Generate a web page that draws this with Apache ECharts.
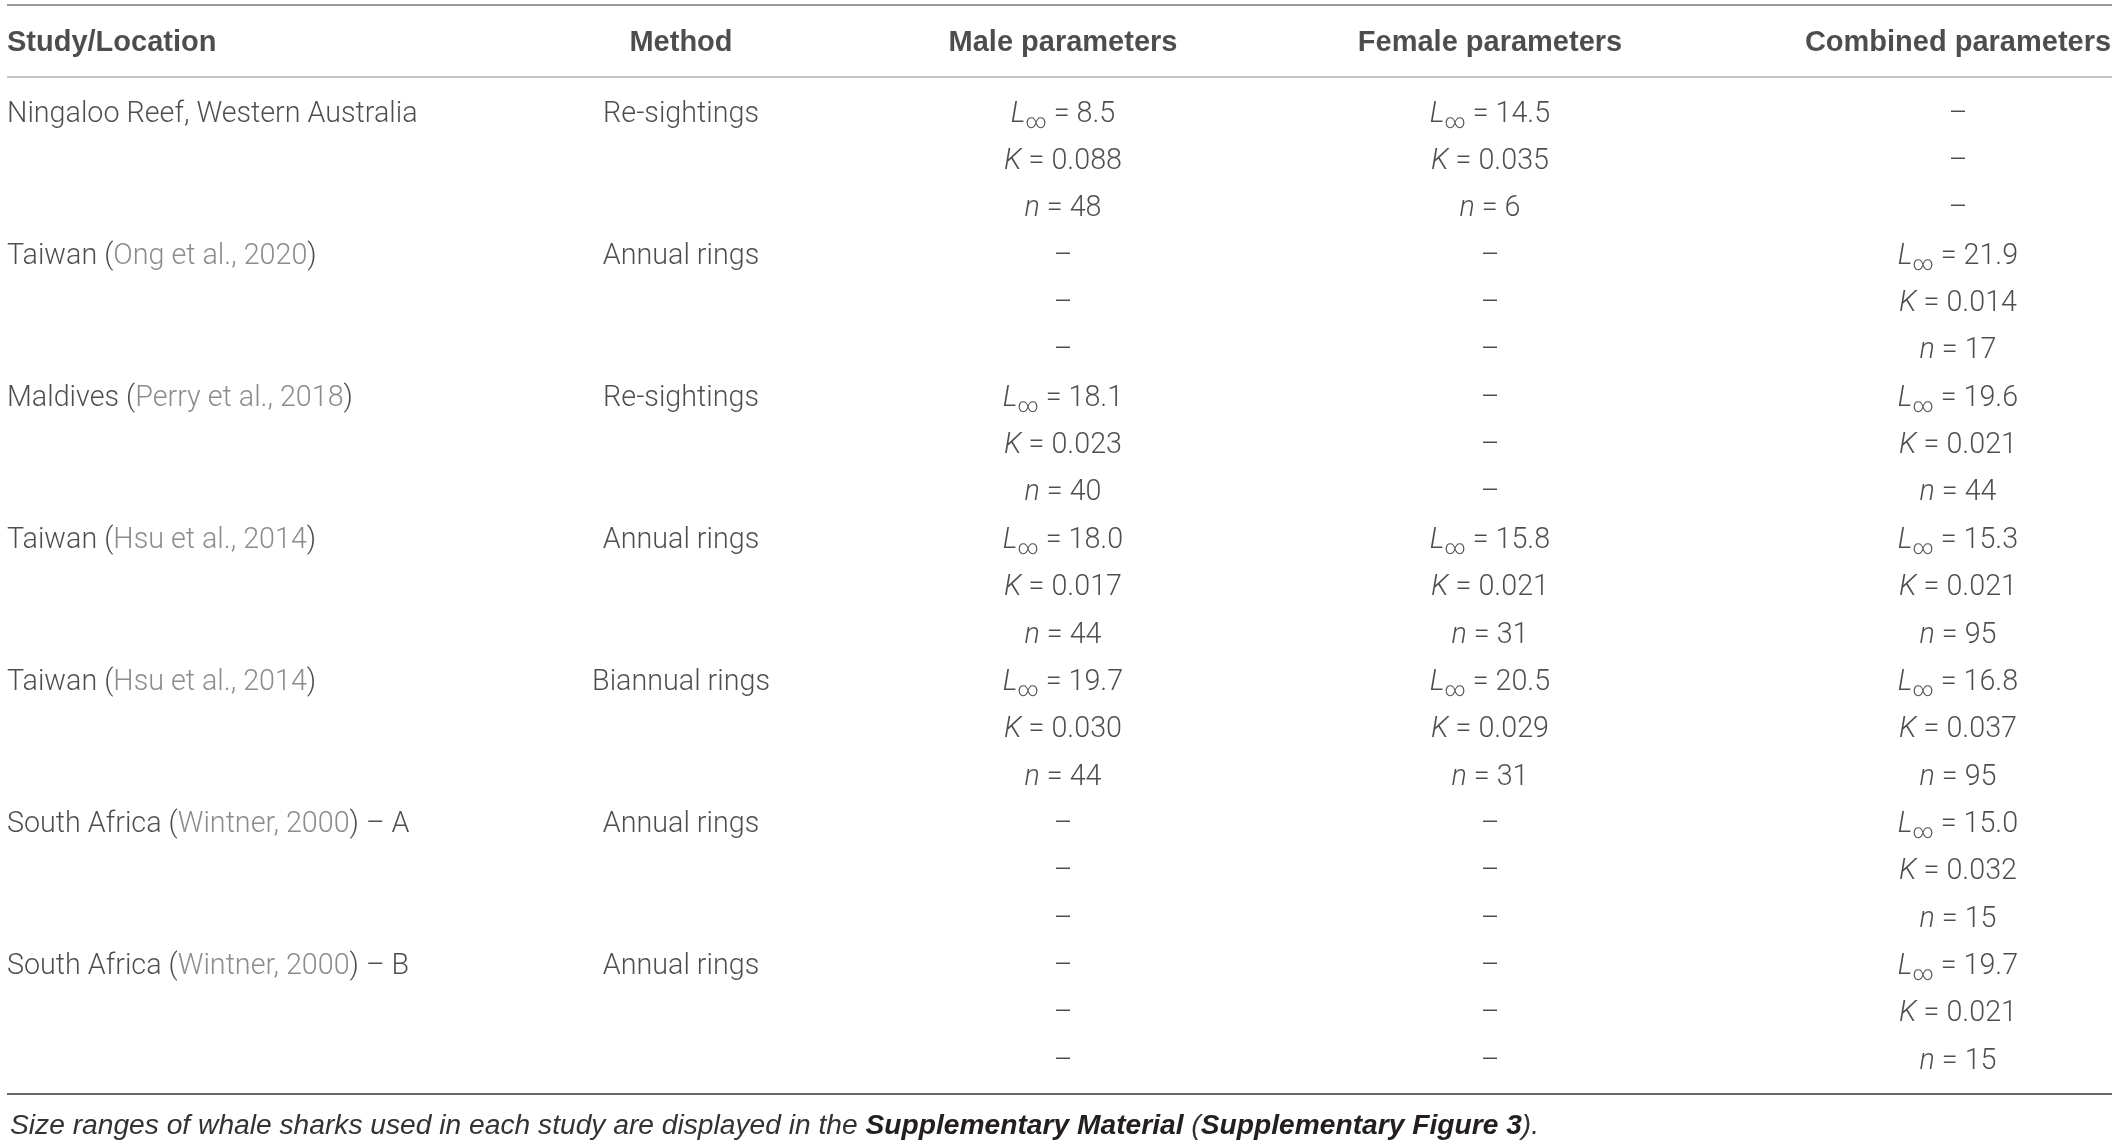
<!DOCTYPE html>
<html>
<head>
<meta charset="utf-8">
<title>Whale shark growth parameters</title>
<script src="https://cdn.jsdelivr.net/npm/echarts@6/dist/echarts.min.js"></script>
<style>
  html, body { margin: 0; padding: 0; background: #fff; }
  #main { width: 2118px; height: 1144px; }
</style>
</head>
<body>
<div id="main"></div>
<script>
// table content
var headers = ['Study/Location', 'Method', 'Male parameters', 'Female parameters', 'Combined parameters'];
var places = ['Ningaloo Reef, Western Australia', 'Taiwan', 'Maldives', 'Taiwan', 'Taiwan', 'South Africa', 'South Africa'];
var citations = ['', 'Ong et al., 2020', 'Perry et al., 2018', 'Hsu et al., 2014', 'Hsu et al., 2014', 'Wintner, 2000', 'Wintner, 2000'];
var suffixes = ['', '', '', '', '', ' – A', ' – B'];
var methods = ['Re-sightings', 'Annual rings', 'Re-sightings', 'Annual rings', 'Biannual rings', 'Annual rings', 'Annual rings'];

var maleLinf = [8.5, null, 18.1, 18.0, 19.7, null, null];
var maleK = [0.088, null, 0.023, 0.017, 0.030, null, null];
var maleN = [48, null, 40, 44, 44, null, null];

var femaleLinf = [14.5, null, null, 15.8, 20.5, null, null];
var femaleK = [0.035, null, null, 0.021, 0.029, null, null];
var femaleN = [6, null, null, 31, 31, null, null];

var combLinf = [null, 21.9, 19.6, 15.3, 16.8, 15.0, 19.7];
var combK = [null, 0.014, 0.021, 0.021, 0.037, 0.032, 0.021];
var combN = [null, 17, 44, 95, 95, 15, 15];

// layout (pixels / row units)
var colX = [7, 681, 1063, 1490, 1958];
var rowStep = 47.35;
var firstRowY = 114.5;
var yMin = -firstRowY / rowStep;
var yMax = yMin + 1144 / rowStep;
var headerRow = (43 - firstRowY) / rowStep;
var topRule = (5 - firstRowY) / rowStep;
var headRule = (77 - firstRowY) / rowStep;
var bottomRule = (1094 - firstRowY) / rowStep;

var ink = '#231f20';
var bodyFont = 'Roboto';
var richStyles = {
  t: { fontFamily: bodyFont, fontWeight: 300, fontSize: 28.7, color: ink, lineHeight: 36 },
  c: { fontFamily: bodyFont, fontWeight: 300, fontSize: 28.7, color: '#6f6f6f', lineHeight: 36 },
  i: { fontFamily: bodyFont, fontWeight: 300, fontStyle: 'italic', fontSize: 28.7, color: ink, lineHeight: 36 },
  sub: { fontFamily: bodyFont, fontWeight: 300, fontSize: 20, color: ink, verticalAlign: 'bottom', lineHeight: 20 },
  h: { fontFamily: 'Liberation Sans', fontWeight: 'bold', fontSize: 29, color: ink, lineHeight: 36 }
};

function dash() { return '{t|–}'; }
function fmtLinf(v) { return v == null ? dash() : '{i|L}{sub|∞}{t| = ' + v.toFixed(1) + '}'; }
function fmtK(v) { return v == null ? dash() : '{i|K}{t| = ' + v.toFixed(3) + '}'; }
function fmtN(v) { return v == null ? dash() : '{i|n}{t| = ' + v + '}'; }
function fmtStudy(s) {
  if (!citations[s]) return '{t|' + places[s] + suffixes[s] + '}';
  return '{t|' + places[s] + ' (}{c|' + citations[s] + '}{t|)' + suffixes[s] + '}';
}

// build one column: list of {row, text}
function buildColumn(col) {
  var cells = [{ row: headerRow, text: '{h|' + headers[col] + '}' }];
  for (var s = 0; s < places.length; s++) {
    var r = s * 3;
    if (col === 0) cells.push({ row: r, text: fmtStudy(s) });
    else if (col === 1) cells.push({ row: r, text: '{t|' + methods[s] + '}' });
    else {
      var L = [maleLinf, femaleLinf, combLinf][col - 2];
      var K = [maleK, femaleK, combK][col - 2];
      var N = [maleN, femaleN, combN][col - 2];
      cells.push({ row: r, text: fmtLinf(L[s]) });
      cells.push({ row: r + 1, text: fmtK(K[s]) });
      cells.push({ row: r + 2, text: fmtN(N[s]) });
    }
  }
  return cells;
}

var series = headers.map(function (h, col) {
  var cells = buildColumn(col);
  var s = {
    name: h,
    type: 'scatter',
    symbolSize: 0,
    silent: true,
    data: cells.map(function (c) { return [colX[col], c.row]; }),
    label: {
      show: true,
      position: 'inside',
      align: col === 0 ? 'left' : 'center',
      verticalAlign: 'middle',
      formatter: function (p) { return cells[p.dataIndex].text; },
      rich: richStyles
    }
  };
  if (col === 0) {
    s.markLine = {
      silent: true,
      symbol: 'none',
      label: { show: false },
      data: [
        { yAxis: topRule, lineStyle: { color: '#9b9b9b', width: 2, type: 'solid' } },
        { yAxis: headRule, lineStyle: { color: '#c4c4c4', width: 2, type: 'solid' } },
        { yAxis: bottomRule, lineStyle: { color: '#6a6a6a', width: 2, type: 'solid' } }
      ]
    };
  }
  return s;
});

var chart = echarts.init(document.getElementById('main'));
chart.setOption({
  animation: false,
  backgroundColor: '#fff',
  title: {
    text: '{fi|Size ranges of whale sharks used in each study are displayed in the }{fb|Supplementary Material}{fi| (}{fb|Supplementary Figure 3}{fi|).}',
    left: 5,
    top: 1107,
    textStyle: {
      fontWeight: 'normal',
      rich: {
        fi: { fontFamily: 'Liberation Sans', fontWeight: 'normal', fontStyle: 'italic', fontSize: 28.2, color: '#333' },
        fb: { fontFamily: 'Liberation Sans', fontWeight: 'bold', fontStyle: 'italic', fontSize: 28.2, color: ink }
      }
    }
  },
  grid: { left: 7, right: 6, top: 0, bottom: 0 },
  xAxis: { type: 'value', min: 7, max: 2112, show: false },
  yAxis: { type: 'value', inverse: true, min: yMin, max: yMax, show: false },
  series: series
});
</script>
</body>
</html>
